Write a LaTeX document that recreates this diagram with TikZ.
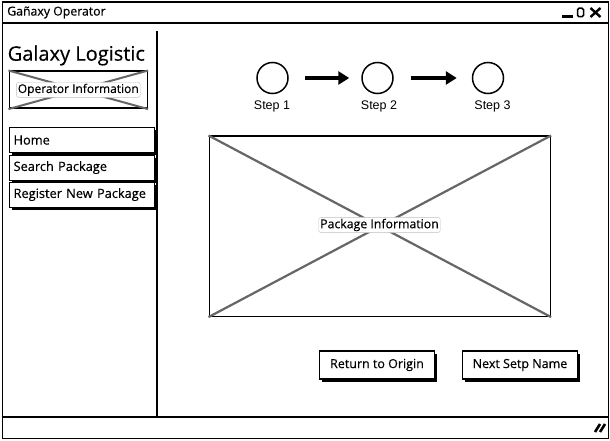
\documentclass[tikz,border=0pt]{standalone}
\usepackage{fontspec}
\setmainfont{Open Sans}[FakeBold=0.4]
\newfontfamily\arialfont{Liberation Sans}
\usetikzlibrary{arrows.meta,shadows}
\tikzset{
  frameline/.style={draw=black,line width=1.6pt},
  xline/.style={draw=black!60,line width=2.2pt},
  lbl/.style={draw=black!25,fill=white,rounded corners=2.5pt,inner sep=1.5pt,text=black},
  menubtn/.style={draw=black,line width=1.2pt,fill=white,minimum width=145pt,minimum height=25pt,anchor=north west,inner sep=4pt,text width=137pt,align=left,font=\fontsize{12.8}{14}\selectfont,
     drop shadow={shadow xshift=2pt,shadow yshift=-2.5pt,opacity=1,fill=black}},
  pushbtn/.style={draw=black,line width=1.2pt,fill=white,minimum width=115pt,minimum height=28pt,inner sep=0pt,font=\fontsize{12.5}{14}\selectfont,
     drop shadow={shadow xshift=2.5pt,shadow yshift=-3pt,opacity=1,fill=black}},
  stepcirc/.style={circle,draw=black,line width=1.5pt,minimum size=31pt,inner sep=0pt},
  steplbl/.style={font=\arialfont\fontsize{12.5}{14}\selectfont},
  steparrow/.style={-{Triangle[length=11pt,width=13pt]},line width=3.2pt}
}
\begin{document}
\begin{tikzpicture}[x=1pt,y=-1pt]
\useasboundingbox (0,0) rectangle (610,441);
\fill[white] (0,0) rectangle (610,441);
% window
\node[frameline,minimum width=606pt,minimum height=436pt,anchor=north west,inner sep=0pt] (win) at (1.5,1.5) {};
\draw[frameline] (1.5,23) coordinate (tbl) -- (608,23) coordinate (tbr);
\node[anchor=west,inner sep=0pt,font=\fontsize{12.3}{14}\selectfont] (title) at (7,12.5) {Gañaxy Operator};
% window controls
\draw[line width=3pt] (562,16.5) coordinate (minA) -- (573,16.5) coordinate (minB);
\node[draw=black,line width=1.5pt,rounded corners=1.5pt,minimum width=6pt,minimum height=8.5pt,inner sep=0pt] (maxbox) at (580.5,12.5) {};
\draw[line width=2.4pt] (590.5,8) coordinate (xa) -- (600.5,17) coordinate (xb);
\draw[line width=2.4pt] (600.5,8) coordinate (xc) -- (590.5,17) coordinate (xd);
% status bar
\draw[frameline] (1.5,417) coordinate (sbl) -- (608,417) coordinate (sbr);
\draw[line width=2.6pt] (595,432) coordinate (r1a) -- (600,424) coordinate (r1b);
\draw[line width=2.6pt] (600,432) coordinate (r2a) -- (605,424) coordinate (r2b);
% sidebar divider
\draw[line width=1.6pt] (157,31) coordinate (sdt) -- (157,416) coordinate (sdb);
% sidebar
\node[anchor=west,inner sep=0pt,font=\fontsize{20}{22}\selectfont] (brand) at (7.5,55.5) {Galaxy Logistic};
\node[frameline,minimum width=138pt,minimum height=37pt,anchor=north west,inner sep=0pt] (opbox) at (8.5,70.5) {};
\draw[xline,line width=2pt] (opbox.north west) -- (opbox.south east);
\draw[xline,line width=2pt] (opbox.north east) -- (opbox.south west);
\node[lbl,font=\fontsize{12}{14}\selectfont] (oplbl) at (opbox.center) {Operator Information};
\node[menubtn] (home) at (9,127) {Home};
\node[menubtn] (search) at (9,154.5) {Search Package};
\node[menubtn] (register) at (9,181.5) {Register New Package};
% steps
\node[stepcirc] (s1) at (272.5,78) {};
\node[stepcirc] (s2) at (377.5,78) {};
\node[stepcirc] (s3) at (488,78) {};
\node[steplbl] (l1) at (272,106) {Step 1};
\node[steplbl] (l2) at (379,106) {Step 2};
\node[steplbl] (l3) at (492.5,106) {Step 3};
\draw[steparrow,shorten <=16pt,shorten >=12pt] (s1.east) -- (s2.west);
\draw[steparrow,shorten <=17pt,shorten >=15pt] (s2.east) -- (s3.west);
% package info
\node[frameline,minimum width=341pt,minimum height=180pt,anchor=north west,inner sep=0pt] (pkg) at (208.5,135.5) {};
\draw[xline] (pkg.north west) -- (pkg.south east);
\draw[xline] (pkg.north east) -- (pkg.south west);
\node[lbl,font=\fontsize{12.3}{14}\selectfont] (pkglbl) at (379.5,225) {Package Information};
% buttons
\node[pushbtn] (ret) at (377,365) {Return to Origin};
\node[pushbtn] (next) at (520,365) {Next Setp Name};
\end{tikzpicture}
\end{document}
